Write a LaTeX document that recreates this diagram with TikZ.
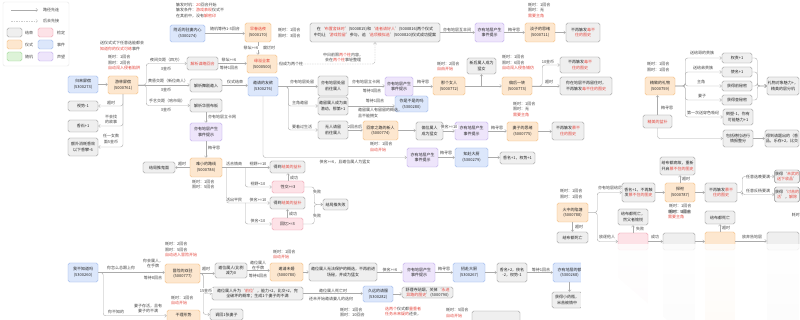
\documentclass[tikz,border=0pt]{standalone}
\usepackage{fontspec}
\setmainfont{Noto Sans CJK SC}
\usetikzlibrary{arrows.meta,calc,fadings}
\definecolor{gf}{HTML}{EFEFEF}\definecolor{gb}{HTML}{8E8E8E}
\definecolor{of}{HTML}{FDE7CF}\definecolor{ob}{HTML}{F2B36B}
\definecolor{bf}{HTML}{DCE7FB}\definecolor{bb}{HTML}{8DAEEA}
\definecolor{pf}{HTML}{EEE5FB}\definecolor{pb}{HTML}{B49DE8}
\definecolor{kf}{HTML}{FDE2E7}\definecolor{kb}{HTML}{EC8FA2}
\definecolor{nf}{HTML}{DDF3D8}\definecolor{nb}{HTML}{8FD184}
\definecolor{rd}{HTML}{E5483F}
\definecolor{tx}{HTML}{444444}
\definecolor{lc}{HTML}{ABABAB}
\newcommand\FS{\fontsize{4}{5.6}\selectfont}
\newcommand\RD[1]{\textcolor{rd}{#1}}
\newcommand\BX[7]{\node[#1, minimum width={#5pt-#3pt}, minimum height={#6pt-#4pt}] (#2) at ({(#3+#5)/2},{(#4+#6)/2}) {#7};}
\newcommand\LB[4]{\node[lbl] (#1) at (#2,#3) {#4};}
\newcommand\LT[4]{\node[anchor=west, inner sep=0pt, align=left] (#1) at (#2,#3) {#4};}
\newcommand\NW[4]{\node[anchor=north west, inner sep=0pt, align=left] (#1) at (#2,#3) {#4};}
\newcommand\HC[2]{\draw[con] (#1.east) -- (#2.west |- #1.east);}
\tikzfading[name=fadedown, top color=transparent!100, bottom color=transparent!0]
\begin{document}
\begin{tikzpicture}[x=1pt,y=-1pt,
 every node/.style={font=\FS, text=tx},
 boxbase/.style={draw, rounded corners=1.6pt, line width=0.45pt, align=center, inner sep=0.4pt, text=black!85},
 gbox/.style={boxbase, draw=gb, fill=gf},
 obox/.style={boxbase, draw=ob, fill=of},
 bbox/.style={boxbase, draw=bb, fill=bf},
 pbox/.style={boxbase, draw=pb, fill=pf},
 kbox/.style={boxbase, draw=kb, fill=kf},
 nbox/.style={boxbase, draw=nb, fill=nf},
 lbl/.style={fill=white, inner sep=0.3pt, align=center},
 con/.style={draw=lc, line width=0.4pt, rounded corners=2.5pt, -{Straight Barb[length=1.8pt,width=3.2pt]}},
 dcon/.style={con, dash pattern=on 1.5pt off 1pt},
]
\useasboundingbox (0,0) rectangle (800,320);
\fill[white] (0,0) rectangle (800,320);
% ---------- legend
\draw[draw=black!10, rounded corners=2pt] (3,2) rectangle (69,66);
\coordinate (la1) at (11,10); \coordinate (la2) at (38,10);
\coordinate (lb1) at (11,21); \coordinate (lb2) at (38,21);
\draw[con] (la1) -- (la2);
\draw[dcon, draw=lc!60] (lb1) -- (lb2);
\LT{lg1}{43}{10}{路径先连}
\LT{lg2}{43}{21}{后去先接}
\BX{gbox}{lgg}{7}{28}{22}{37}{}
\BX{kbox}{lgk}{38}{28}{53}{37}{}
\BX{obox}{lgo}{7}{40}{22}{49}{}
\BX{bbox}{lgb}{38}{40}{53}{49}{}
\BX{nbox}{lgn}{7}{52}{22}{61}{}
\BX{pbox}{lgp}{38}{52}{53}{61}{}
\LT{lt1}{25}{32.5}{结束}\LT{lt2}{57}{32.5}{检定}
\LT{lt3}{25}{44.5}{仪式}\LT{lt4}{57}{44.5}{事件}
\LT{lt5}{25}{56.5}{随机}\LT{lt6}{57}{56.5}{声望}
% ---------- boxes
\BX{bbox}{fujin}{170}{25}{205}{42}{附近的驻妻内心\\(5300274)}
\BX{obox}{zaochun}{245}{23}{271}{42}{\RD{早春选夜}\\(5000170)}
\BX{gbox}{note}{310}{23}{440}{42}{在‘\RD{布置舍妹时}’(5000815)和‘\RD{逢者请好人}’(5000816)两个仪式\\中均让‘\RD{游戏险留}’参与，追‘\RD{选项模拟选}’(5000820)仪式成功提案}
\BX{pbox}{pptop}{475}{23}{504}{42}{亦有地层产生\\事件提示}
\BX{obox}{danzi}{525}{23}{555}{42}{淡子的思绪\\(5000711)}
\BX{gbox}{endtop}{566}{23}{600}{42}{不再触发\RD{毒不}\\\RD{住的图史}}
\BX{bbox}{guilai}{68}{76}{98}{93}{归来屏宿\\(5300273)}
\BX{obox}{youlin}{108}{76}{138}{94}{游林屏宿\\(5000761)}
\BX{gbox}{jx1}{187}{57}{218}{70}{\RD{解析谋略回合}}
\BX{gbox}{jx2}{190}{79}{222}{92}{解析舞剧邀入}
\BX{gbox}{jx3}{190}{99}{222}{112}{解析华丽布板}
\BX{obox}{yuanyi}{247}{55}{277}{73}{\RD{缘溢全套}\\(5000500)}
\BX{bbox}{yaoqing}{248}{77}{278}{96}{邀请的友欲\\(5300276)}
\BX{gbox}{gr1}{318}{76}{348}{96}{亦有地层处留\\前往属人}
\BX{pbox}{ppr1}{385}{77}{413}{96}{亦有地层产生\\事件提示}
\BX{obox}{nage}{433}{77}{465}{95}{那个女人\\(5000772)}
\BX{gbox}{xinhou}{467}{58}{496}{74}{新后属人成为\\猛女}
\BX{obox}{pianhou}{502}{77}{532}{95}{偏后一转\\(5000773)}
\BX{gbox}{enda}{560}{57}{600}{73}{不再触发\RD{毒不}\\\RD{住的图史}}
\BX{gbox}{endb}{560}{77}{612}{95}{你在地层不再留住时，\\不再触发\RD{毒不住的图史}}
\BX{gbox}{gr2}{318}{97}{348}{115}{邀留属人成为高\\潜动，那第+1}
\BX{bbox}{evni}{395}{96}{428}{112}{你是不是的吗\\(5300280)}
\BX{gbox}{gr3}{318}{121}{348}{139}{无人请留\\前往属人}
\BX{obox}{huijia}{363}{121}{398}{140}{回家之路的新人\\(5000774)}
\BX{gbox}{pianwei}{416}{122}{443}{140}{偏位属人\\成为猛女}
\BX{pbox}{ppr3}{455}{122}{488}{140}{亦有地层产生\\事件提示}
\BX{obox}{qizi}{507}{122}{538}{141}{妻子的思绪\\(5000775)}
\BX{gbox}{endc}{552}{122}{584}{140}{不再触发\RD{慕不}\\\RD{住的图史}}
\BX{pbox}{ppr4}{407}{148}{438}{167}{亦有地层产生\\事件提示}
\BX{bbox}{zhifu}{455}{148}{488}{167}{知赴大厨\\(5300279)}
\BX{gbox}{xiang1}{500}{152}{535}{164}{香名+1，权势+1}
\BX{gbox}{shishi}{68}{101}{98}{111}{视势-1}
\BX{gbox}{xiangshi}{68}{120}{98}{132}{香石+1}
\BX{gbox}{ewai}{68}{138}{98}{156}{额外消耗香效\\以下香攀-6}
\BX{pbox}{ppleft}{190}{123}{222}{141}{亦有地层产生\\事件提示}
\BX{obox}{nanxiao}{190}{158}{222}{177}{难小的路线\\(5000784)}
\BX{gbox}{jieju1}{143}{162}{175}{173}{结局推鬼面}
\BX{gbox}{dedao1}{270}{161}{305}{173}{得到\RD{结美的益补}}
\BX{kbox}{xingjiao}{272}{181}{304}{193}{性交>=3}
\BX{gbox}{dedao2}{270}{197}{305}{209}{得到\RD{结美的益补}}
\BX{kbox}{huiyi}{272}{218}{303}{230}{回忆>=3}
\BX{gbox}{jieju2}{323}{199}{348}{210}{结局推失败}
\BX{obox}{jingzhi}{645}{77}{675}{95}{精致的礼物\\(5000759)}
\BX{gbox}{quan}{722}{53}{752}{63}{权责+1}
\BX{gbox}{shi}{722}{67}{752}{77}{使名+1}
\BX{gbox}{qian}{722}{81}{752}{91}{获得前秘密}
\BX{gbox}{cha}{722}{95}{752}{105}{获得查秘密}
\BX{gbox}{daosu}{723}{109}{753}{125}{倒塑-1，你有\\可能魅力+1}
\BX{gbox}{liwu}{767}{77}{799}{95}{礼物对象魅力+，\\精美的层分机}
\BX{gbox}{jingmei}{643}{115}{672}{128}{\RD{精美的盆补}}
\BX{gbox}{baokuo}{723}{130}{753}{147}{包括德拉进行\\情报整分}
\BX{gbox}{dedao3}{765}{130}{799}{147}{得到请题出的（香\\品，乐存+2，比交}
\BX{gbox}{geibu}{660}{157}{695}{175}{给布都病故，重新\\开启\RD{慕不住的图史}}
\BX{obox}{tansi}{665}{183}{695}{202}{探祀\\(5000787)}
\BX{gbox}{xiang2}{622}{183}{655}{202}{香名+1，不再触\\发\RD{慕不住的图史}}
\BX{gbox}{gbu}{705}{183}{737}{202}{不再触发\RD{慕不}\\\RD{住的图史}}
\BX{gbox}{huode1}{775}{170}{799}{183}{获得‘\RD{未武的}\\\RD{送下收品}’}
\BX{gbox}{huode2}{775}{187}{799}{202}{获得‘\RD{讨苦的}\\\RD{活}’，\RD{解除}}
\BX{obox}{huozhong}{557}{203}{588}{222}{火中的陷塘\\(5000788)}
\BX{gbox}{jiebu}{557}{232}{588}{243}{结布都死亡}
\BX{gbox}{geibu2}{618}{209}{648}{225}{给布都死亡，\\然父者愉悦}
\BX{gbox}{geibu3}{705}{211}{735}{224}{给布都死亡}
\BX{kbox}{pkb}{618}{233}{648}{250}{}
\BX{gbox}{gb2}{663}{233}{695}{250}{}
\BX{obox}{ob3}{705}{232}{735}{250}{}
\BX{gbox}{gb4}{767}{232}{799}{250}{}
\BX{bbox}{wobu}{68}{263}{98}{282}{我不知道吗\\(5300260)}
\BX{obox}{maoxian}{165}{264}{200}{283}{冒险的双驻\\(5000777)}
\BX{obox}{ganli}{167}{310}{200}{331}{干理形势\\\phantom{x}\\\phantom{x}}
\BX{gbox}{jianwei}{215}{263}{247}{278}{邀位属人(比例\\减为0}
\BX{obox}{yaoqingw}{270}{263}{303}{281}{邀请未婚\\(5000780)}
\BX{gbox}{wufa}{309}{263}{377}{281}{邀位属人无法保护的概选，不再前进\\场秘，并成为猛女}
\BX{pbox}{ppb}{403}{263}{435}{282}{亦有地层产生\\事件提示}
\BX{bbox}{zhaofu}{453}{263}{485}{282}{招赴大厨\\(5300267)}
\BX{gbox}{xiang3}{497}{263}{527}{282}{香名+2，侠名\\-2，权势-1}
\BX{bbox}{yiyou}{553}{263}{586}{282}{亦有地层的额\\(5300268)}
\BX{gbox}{shengwei}{212}{287}{303}{300}{邀位属人升为‘\RD{前位}’，能力+2，比交+2，完\\全破坏的概率；生成1个妻子的不满}
\BX{bbox}{jiuyuan}{363}{286}{393}{302}{久远的请服\\(5300282)}
\BX{gbox}{shuli}{402}{287}{453}{298}{舒理寺贴姻，关掉‘\RD{永进}\\\RD{异路的图史}’(5000790)}
\BX{gbox}{diaohui}{210}{309}{243}{320}{调回1张妻子}
\BX{gbox}{huode3}{552}{292}{582}{308}{获得小药瓶，\\米苦被情中}
\BX{gbox}{bbot}{472}{311}{520}{330}{}
% ---------- connectors
\HC{fujin}{zaochun}
\draw[con] (zaochun.south) -- (zaochun.south |- yuanyi.north);
\draw[dcon] (yuanyi.east) -| (note.south);
\HC{note}{pptop}
\HC{pptop}{danzi}
\HC{danzi}{endtop}
\HC{guilai}{youlin}
\draw[con] (youlin.east) -- ++(8,0) |- (jx1.west);
\HC{youlin}{jx2}
\draw[con] (youlin.east) -- ++(8,0) |- (jx3.west);
\HC{jx1}{yuanyi}
\HC{jx2}{yaoqing}
\draw[con] (jx3.south) -- (ppleft.north);
\draw[con] (ppleft.south) -- (nanxiao.north);
\draw[con] (nanxiao.west) -- (jieju1.east |- nanxiao.west);
\draw[con] (youlin.south) |- (shishi.east);
\draw[con] (youlin.south) |- (xiangshi.east);
\draw[con] (youlin.south) |- (ewai.east);
\HC{yaoqing}{gr1}
\draw[con] (yaoqing.east) -- ++(10,0) |- (gr2.west);
\draw[con] (yaoqing.east) -- ++(10,0) |- (gr3.west);
\draw[con] (yaoqing.south) |- (ppr4.west);
\HC{gr1}{ppr1}
\HC{ppr1}{nage}
\HC{nage}{pianhou}
\coordinate (jxh) at (xinhou.south |- nage.east);
\draw[con] (jxh) -- (xinhou.south);
\draw[con] (pianhou.east) -- ++(10,0) |- (enda.west);
\HC{pianhou}{endb}
\HC{gr2}{evni}
\HC{gr3}{huijia}
\HC{huijia}{pianwei}
\HC{pianwei}{ppr3}
\HC{ppr3}{qizi}
\HC{qizi}{endc}
\HC{ppr4}{zhifu}
\HC{zhifu}{xiang1}
\HC{nanxiao}{dedao1}
\coordinate (s1) at ($(nanxiao.east)+(4,0)$);
\draw[con] (s1) |- (dedao2.west);
\coordinate (s2) at ($(nanxiao.east)+(23,0)$);
\draw[con] (s2) |- (xingjiao.west);
\coordinate (s3) at (s2 |- dedao2.west);
\draw[con] (s3) |- (huiyi.west);
\draw[con] (xingjiao.north) -- (xingjiao.north |- dedao1.south);
\draw[con] (huiyi.north) -- (huiyi.north |- dedao2.south);
\draw[con] (xingjiao.east) -- ++(10,0) |- (jieju2.west);
\draw[con] (huiyi.east) -- ++(11,0) |- (jieju2.west);
\draw[con] (jingmei.north) -- (jingmei.north |- jingzhi.south);
\draw[con] (jingzhi.east) -- ++(10,0) |- (quan.west);
\draw[con] (jingzhi.east) -- ++(10,0) |- (shi.west);
\draw[con] (jingzhi.east) -- ++(10,0) |- (qian.west);
\draw[con] (jingzhi.east) -- ++(10,0) |- (cha.west);
\draw[con] (jingzhi.east) -- ++(10,0) |- (daosu.west);
\draw[con] (quan.east) -- ++(5,0) |- (liwu.west);
\draw[con] (shi.east) -- ++(5,0) |- (liwu.west);
\draw[con] (qian.east) -- ++(5,0) |- (liwu.west);
\draw[con] (cha.east) -- ++(5,0) |- (liwu.west);
\draw[con] (jingmei.south) |- (baokuo.west);
\HC{baokuo}{dedao3}
\HC{xiang2}{tansi}
\HC{tansi}{gbu}
\draw[con] (tansi.north) -- (tansi.north |- geibu.south);
\draw[con] (gbu.east) -- ++(5,0) |- (huode1.west);
\draw[con] (gbu.east) -- ++(5,0) |- (huode2.west);
\draw[con] (huozhong.south) -- (jiebu.north);
\draw[con] (huozhong.east) -- ++(9,0) |- (xiang2.west);
\draw[con] (huozhong.east) -- ++(9,0) |- (pkb.west);
\draw[con] (pkb.north) -- (pkb.north |- geibu2.south);
\HC{pkb}{gb2}
\HC{gb2}{ob3}
\draw[con] (ob3.north) -- (ob3.north |- geibu3.south);
\HC{ob3}{gb4}
\HC{wobu}{maoxian}
\coordinate (ganw) at ($(ganli.north west)+(0,6)$);
\draw[con] (wobu.east) -- ++(5,0) |- (ganw);
\HC{maoxian}{jianwei}
\draw[con] (maoxian.east) -- ++(3,0) |- (shengwei.west);
\draw[con] (maoxian.east) -- ++(3,0) |- (diaohui.west);
\HC{jianwei}{yaoqingw}
\HC{yaoqingw}{wufa}
\HC{wufa}{ppb}
\HC{ppb}{zhaofu}
\HC{zhaofu}{xiang3}
\HC{xiang3}{yiyou}
\draw[con] (yiyou.south) -- (yiyou.south |- huode3.north);
\HC{shengwei}{jiuyuan}
\HC{jiuyuan}{shuli}
% ---------- labels
\NW{trig}{176}{2.5}{触发时机：\RD{20}回合开始\\触发条件：\RD{游戏表现}仪式不\\在其前中，没有\RD{解密印}}
\LB{l1}{225}{29}{随机等待1-3回合}
\LT{l2}{278}{29.5}{耗时：1回合}
\LT{l3}{278}{36}{限时：3回合}
\LB{l4}{251}{48}{祭坛>=6}
\LB{l5}{269}{48}{腐烂时}
\LB{l6}{291}{64}{但成为两个柱}
\node[inner sep=0pt, align=center] (l7) at (343,57.5) {中日前限\RD{两个柱}内容，\\会在\RD{两个柱}事轻整理};
\LB{l8}{457}{30}{亦有地层互丰间}
\LB{l9}{514}{30}{梅寻思}
\NW{l10}{528}{2.5}{耗时：1回合\\限时：无\\\RD{需要主角}}
\NW{l11}{100}{41}{送仪式式下任意选能都会\\\RD{知道你的仪式可练}事件}
\NW{l12}{108}{55}{耗时：1回合\\限时：2回合\\\RD{自动闯入侵者陷阱}}
\LB{l13}{166}{59.5}{夜间交距（四方）}
\LB{l14}{166}{68.5}{3金币}
\LB{l15}{168}{81}{黄昏交距（新位商人）}
\LB{l16}{166}{90}{3金币}
\LB{l17}{167}{101}{手艺交距（哈市局）}
\LB{l18}{166}{110}{3金币}
\LB{l20}{229}{59.5}{祭坛>=6}
\LB{l21}{229}{68}{等待1回合}
\LB{l22}{235}{82}{仪式结束}
\LB{l23}{302}{82}{亦有地层处留}
\LB{l24}{366}{82}{亦有地层立卡网}
\LB{l25}{372}{90.5}{等待3回合}
\LB{l26}{423}{82}{梅寻思}
\NW{l27}{437}{61.5}{耗时：2回合\\\RD{自由开始}}
\NW{l28}{502}{55}{耗时：1回合\\限时：6回合\\\RD{自动闯入侵各铺仿}}
\LB{l29}{548}{62}{10金币}
\LB{l30}{549}{82}{超时}
\LB{l31}{300}{102.5}{主角邀留}
\LB{l32}{375}{101}{等待1回合}
\NW{l33}{358}{108}{邀留属人有留留的概选，\\且不能拥女}
\LB{l34}{302}{127}{要着过生活}
\LB{l35}{355}{126.5}{2回合后}
\NW{l36}{370}{142}{耗时：1回合\\\RD{自动开始}}
\LB{l37}{449}{127}{侠名>=10}
\LB{l38}{497}{127.5}{梅寻思}
\NW{l39}{513}{101.5}{耗时：1回合\\限时：无\\\RD{需要主角}}
\LB{l40}{345}{162}{侠名>=6，且邀位属人为猛女}
\LB{l41}{446}{152.5}{梅寻思}
\LB{l42}{111}{103}{超时}
\node[lbl] (l43) at (111,119.5) {不会找\\的故事};
\node[lbl] (l44) at (111,139) {任一女数\\面5金币};
\LT{l45}{208}{117}{亦有地层立卡网}
\LT{l46}{208}{148}{梅寻思}
\LB{l47}{182}{164}{超时}
\NW{l48}{192}{179.5}{耗时：1回合\\限时：5回合}
\LB{l49}{234}{164}{活合情商}
\LB{l50}{258}{164}{视野>=10}
\LB{l51}{258}{184}{视野<10}
\LT{l52}{290}{177.5}{成功}
\LB{l53}{317}{192}{失败}
\LB{l54}{234}{200}{活出平民}
\LB{l55}{258}{200}{侠名>=10}
\LT{l56}{289}{213.5}{成功}
\LB{l57}{258}{221}{侠名<10}
\LB{l58}{317}{216}{失败}
\NW{l60}{647}{62}{耗时：1回合\\限时：1回合}
\LB{l61}{702}{53}{送给哥的贵族}
\LB{l62}{703}{67.5}{送给弟贵族}
\LB{l63}{701}{82}{主角}
\LB{l64}{702}{96}{妻子}
\LB{l65}{703}{112.5}{第一次送穿色吸纪}
\LT{l66}{661}{107.5}{梅寻思}
\LT{l67}{682}{178.5}{超时}
\NW{l68}{669}{204}{耗时：1回合\\限时：3回合}
\LB{l69}{610}{188}{亦有地层给尼}
\LB{l70}{758}{177}{任意选晚要满}
\LB{l71}{758}{190.5}{任意反杨要满}
\NW{l72}{560}{189}{耗时：1回合\\限时：1回合}
\LT{l73}{575}{226.5}{超时}
\LT{l74}{636}{229}{失败}
\LB{l75}{607}{237}{放逐他人}
\LB{l76}{655}{237}{成功}
\NW{l77}{668}{209.5}{耗时：5回合\\\RD{需要主角}}
\LT{l78}{722}{227.5}{超时}
\LB{l79}{752}{237}{放弃告地层}
\node[anchor=north east, inner sep=0pt] (l80) at (800,213) {耗时};
\LB{l81}{121}{268}{你怎么总跟上你}
\node[lbl] (l82) at (153,263.5) {你会属人，\\在手牌};
\LB{l83}{153}{277.5}{等待8回合}
\NW{l84}{165}{242}{耗时：2回合\\限时：5回合\\\RD{自动进入冒险开始}}
\LB{l85}{116}{312}{你不知的}
\node[lbl] (l86) at (148,308.5) {妻子存活，且有\\妻子的不满};
\NW{l87}{171}{295.5}{耗时：1回合\\\RD{自动开始}}
\LB{l88}{206}{269}{超时}
\LB{l89}{206}{290.5}{15金币}
\node[lbl] (l90) at (258,265.5) {邀位属人\\在手牌};
\LB{l91}{258}{276}{等待6回合}
\NW{l92}{273}{249.5}{耗时：1回合\\\RD{自动开始}}
\LB{l93}{390}{269.5}{侠名>=6}
\LB{l94}{444}{268.5}{梅寻思}
\LB{l95}{541}{269.5}{等待1回合}
\LB{l96}{333}{291}{邀位属人死亡时}
\LB{l97}{331}{298.5}{还未开始邀请妻儿的选何}
\NW{l98}{340}{307.5}{耗时：1回合\\限时：10回合}
\NW{l99}{385}{306.5}{\RD{选两个}仪式都\RD{量重者}\\\RD{任务未来疑的}还会，}
\NW{l100}{446}{308}{耗时：5回合\\\RD{自动开始}}
% ---------- blurred corner
\fill[kf, path fading=fadedown, opacity=0.6] (618,244) rectangle (648,320);
\fill[gf, path fading=fadedown, opacity=0.8] (663,244) rectangle (695,320);
\fill[of, path fading=fadedown, opacity=0.7] (705,244) rectangle (735,320);
\fill[gf, path fading=fadedown, opacity=0.8] (767,244) rectangle (799,320);
\fill[white, opacity=0.8] (581,244) rectangle (800,320);
\fill[white] (581,262) -- (600,262) -- (667,320) -- (581,320) -- cycle;
\end{tikzpicture}
\end{document}
